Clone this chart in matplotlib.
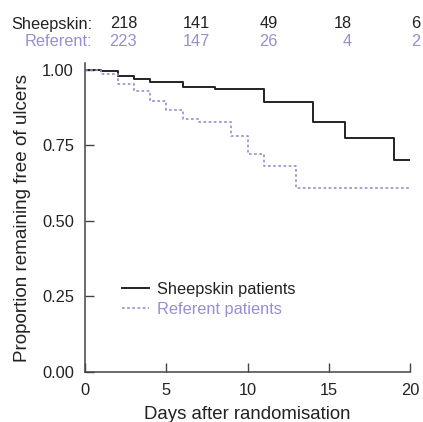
import matplotlib
matplotlib.use("Agg")
import matplotlib.pyplot as plt

plt.rcParams['font.family'] = ['Liberation Sans', 'DejaVu Sans']

# Kaplan-Meier step data (day, survival proportion)
sheep_days = [0, 1, 2, 3, 4, 6, 8, 11, 14, 16, 19, 20]
sheep_surv = [1.000, 0.997, 0.981, 0.971, 0.960, 0.945, 0.937, 0.893, 0.828, 0.774, 0.703, 0.703]
ref_days = [0, 1, 2, 3, 4, 5, 6, 7, 9, 10, 11, 13, 20]
ref_surv = [1.000, 0.988, 0.955, 0.929, 0.898, 0.868, 0.838, 0.827, 0.780, 0.722, 0.683, 0.610, 0.610]

# numbers at risk
risk_sheep = [218, 141, 49, 18, 6]
risk_ref = [223, 147, 26, 4, 2]
row_labels = ["Sheepskin:", "Referent:"]

x_ticks = [0, 5, 10, 15, 20]
y_ticks = [0.00, 0.25, 0.50, 0.75, 1.00]
series_labels = ["Sheepskin patients", "Referent patients"]

dark = "#222222"
purple = "#9a8ed0"
fs = 11.8

fig = plt.figure(figsize=(4.23, 4.22), dpi=100)
ax = fig.add_axes([85/423, 50/422, 325/423, 309/422])

ax.step(sheep_days, sheep_surv, where='post', color=dark, lw=1.4, label=series_labels[0])
ax.step(ref_days, ref_surv, where='post', color=purple, lw=1.2, ls=(0, (1.6, 1.5)), label=series_labels[1])

ax.set_xlim(0, 20)
ax.set_ylim(0, 1.023)
ax.set_xticks(x_ticks)
ax.set_xticklabels([str(t) for t in x_ticks])
ax.set_yticks(y_ticks)
ax.set_yticklabels([f"{t:.2f}" for t in y_ticks])
for s in ['top', 'right']:
    ax.spines[s].set_visible(False)
for s in ['left', 'bottom']:
    ax.spines[s].set_color('#444444')
    ax.spines[s].set_linewidth(1.1)
ax.tick_params(direction='in', length=6.5, width=1.0, color='#444444',
               labelsize=fs, labelcolor=dark)
ax.tick_params(axis='x', pad=8)
ax.tick_params(axis='y', pad=8)
ax.set_xlabel("Days after randomisation", fontsize=13.4, color=dark, labelpad=6)
ax.set_ylabel("Proportion remaining free of ulcers", fontsize=13.6, color=dark, labelpad=8)

leg = ax.legend(loc='center left', bbox_to_anchor=(0.113, 0.235), frameon=False,
                fontsize=fs, handlelength=1.65, handletextpad=0.5, labelspacing=0.3,
                labelcolor='linecolor', borderaxespad=0, borderpad=0)

# at-risk table
num_x = [137, 210, 278, 352, 420]
for row, (lab, vals, col, ypix) in enumerate(zip(row_labels, [risk_sheep, risk_ref],
                                                 [dark, purple], [24, 41])):
    fig.text(92/423, 1 - ypix/422, lab, ha='right', va='center', fontsize=fs, color=col)
    for xp, v in zip(num_x, vals):
        fig.text(xp/423, 1 - ypix/422, str(v), ha='right', va='center', fontsize=fs, color=col)

fig.savefig("out.png", dpi=100)
